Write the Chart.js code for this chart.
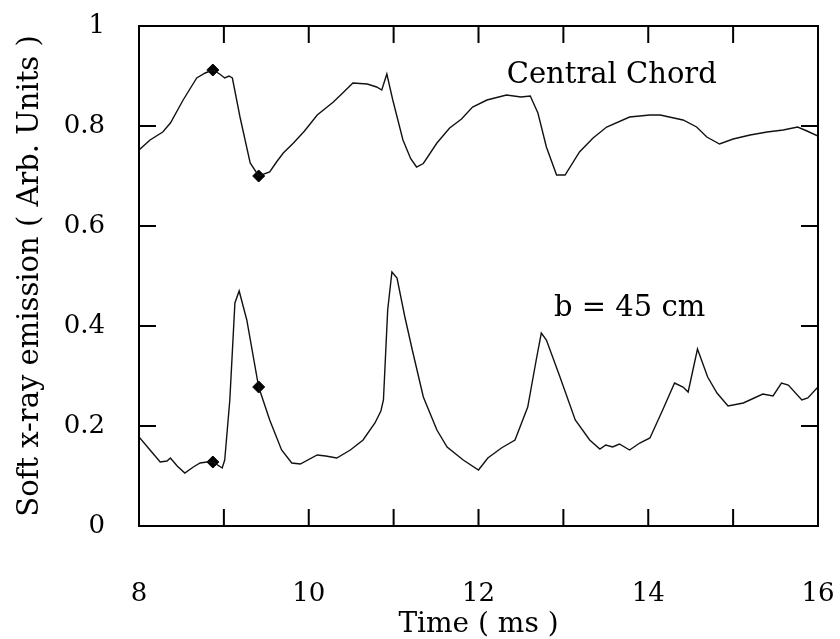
<!DOCTYPE html>
<html>
<head>
<meta charset="utf-8">
<script src="https://cdn.jsdelivr.net/npm/chart.js@4/dist/chart.umd.min.js"></script>
<style>
  html, body { margin: 0; padding: 0; background: #fff; }
  #wrap { width: 840px; height: 639px; }
</style>
</head>
<body>
<div id="wrap"><canvas id="chart" width="840" height="639"></canvas></div>
<script>
// central chord trace (time in ms, emission in arb. units)
const centralTime = [8.00, 8.13, 8.28, 8.37, 8.52, 8.68, 8.78, 8.87, 8.95, 9.01, 9.06, 9.10, 9.19, 9.31, 9.41,
    9.54, 9.62, 9.70, 9.82, 9.95, 10.10, 10.29, 10.40, 10.52, 10.69, 10.80, 10.86, 10.92, 10.99, 11.11, 11.20,
    11.27, 11.35, 11.51, 11.66, 11.80, 11.93, 12.10, 12.33, 12.50, 12.61, 12.70, 12.80, 12.92, 13.02, 13.19,
    13.35, 13.51, 13.78, 14.02, 14.14, 14.41, 14.57, 14.69, 14.84, 15.00, 15.20, 15.40, 15.59, 15.76, 15.87, 16.00];
const centralValues = [0.752, 0.772, 0.788, 0.806, 0.852, 0.896, 0.906, 0.912, 0.904, 0.896, 0.900, 0.896, 0.818, 0.726, 0.700,
    0.708, 0.728, 0.746, 0.766, 0.790, 0.822, 0.848, 0.866, 0.886, 0.884, 0.878, 0.872, 0.904, 0.852, 0.772, 0.735,
    0.718, 0.725, 0.766, 0.796, 0.814, 0.838, 0.852, 0.862, 0.858, 0.860, 0.826, 0.758, 0.702, 0.702, 0.748,
    0.776, 0.798, 0.818, 0.822, 0.822, 0.812, 0.798, 0.778, 0.764, 0.774, 0.782, 0.788, 0.792, 0.798, 0.790, 0.780];

// b = 45 cm trace
const outerTime = [8.00, 8.13, 8.25, 8.33, 8.37, 8.45, 8.54, 8.64, 8.72, 8.80, 8.87, 8.98, 9.01, 9.07, 9.13, 9.18,
    9.27, 9.41, 9.54, 9.68, 9.80, 9.90, 10.10, 10.20, 10.33, 10.49, 10.64, 10.78, 10.85, 10.88, 10.93, 10.98,
    11.04, 11.13, 11.22, 11.35, 11.51, 11.63, 11.82, 12.00, 12.11, 12.27, 12.43, 12.58, 12.68, 12.74, 12.80,
    12.96, 13.14, 13.31, 13.43, 13.50, 13.58, 13.66, 13.78, 13.90, 14.02, 14.17, 14.31, 14.41, 14.47, 14.58,
    14.70, 14.81, 14.94, 15.12, 15.35, 15.47, 15.57, 15.65, 15.81, 15.88, 16.00];
const outerValues = [0.178, 0.152, 0.128, 0.130, 0.136, 0.120, 0.106, 0.118, 0.126, 0.128, 0.128, 0.116, 0.132, 0.252, 0.446, 0.470,
    0.412, 0.278, 0.212, 0.152, 0.126, 0.124, 0.142, 0.140, 0.136, 0.152, 0.172, 0.206, 0.230, 0.252, 0.432, 0.508,
    0.496, 0.420, 0.352, 0.258, 0.192, 0.158, 0.132, 0.112, 0.136, 0.156, 0.172, 0.238, 0.332, 0.386, 0.372,
    0.298, 0.212, 0.172, 0.154, 0.162, 0.158, 0.164, 0.152, 0.166, 0.176, 0.232, 0.286, 0.278, 0.268, 0.354,
    0.298, 0.266, 0.240, 0.246, 0.264, 0.260, 0.286, 0.282, 0.252, 0.256, 0.278];

// diamond markers
const markerTime = [8.87, 9.41, 8.87, 9.41];
const markerValues = [0.912, 0.700, 0.128, 0.278];

const xTickLabels = [8, 10, 12, 14, 16];
const yTickLabels = [0, 0.2, 0.4, 0.6, 0.8, 1];

const FONT = "'DejaVu Serif', serif";

function toPoints(xs, ys) {
    return xs.map((x, i) => ({ x: x, y: ys[i] }));
}

// frame, inward ticks and the two text notes
const framePlugin = {
    id: 'frame',
    afterDatasetsDraw(chart) {
        const ctx = chart.ctx;
        const a = chart.chartArea;
        const xs = chart.scales.x, ys = chart.scales.y;
        ctx.save();
        ctx.strokeStyle = '#000';
        ctx.lineWidth = 2;
        ctx.strokeRect(a.left, a.top, a.right - a.left, a.bottom - a.top);
        const len = 17;
        ctx.beginPath();
        for (let t = xs.min; t <= xs.max; t += 1) {
            const px = xs.getPixelForValue(t);
            ctx.moveTo(px, a.bottom); ctx.lineTo(px, a.bottom - len);
            ctx.moveTo(px, a.top); ctx.lineTo(px, a.top + len);
        }
        yTickLabels.forEach(v => {
            const py = ys.getPixelForValue(v);
            ctx.moveTo(a.left, py); ctx.lineTo(a.left + len, py);
            ctx.moveTo(a.right, py); ctx.lineTo(a.right - len, py);
        });
        ctx.stroke();

        ctx.fillStyle = '#000';
        ctx.font = '29px ' + FONT;
        ctx.textAlign = 'center';
        ctx.textBaseline = 'middle';
        ctx.fillText('Central Chord', xs.getPixelForValue(13.57), ys.getPixelForValue(0.902));
        ctx.fillText('b = 45 cm', xs.getPixelForValue(13.78), ys.getPixelForValue(0.436));
        ctx.restore();
    }
};

document.addEventListener("DOMContentLoaded", () => {
    const ctx = document.getElementById('chart').getContext('2d');
    new Chart(ctx, {
        type: 'scatter',
        data: {
            datasets: [
                {
                    label: 'Central Chord',
                    data: toPoints(centralTime, centralValues),
                    showLine: true,
                    borderColor: '#111',
                    borderWidth: 1.4,
                    pointRadius: 0,
                    tension: 0
                },
                {
                    label: 'b = 45 cm',
                    data: toPoints(outerTime, outerValues),
                    showLine: true,
                    borderColor: '#111',
                    borderWidth: 1.4,
                    pointRadius: 0,
                    tension: 0
                },
                {
                    label: 'markers',
                    data: toPoints(markerTime, markerValues),
                    showLine: false,
                    pointStyle: 'rectRot',
                    pointRadius: 6,
                    backgroundColor: '#000',
                    borderColor: '#000'
                }
            ]
        },
        options: {
            responsive: false,
            animation: false,
            layout: { padding: { top: 26, right: 22, left: 0, bottom: 0 } },
            plugins: {
                legend: { display: false },
                tooltip: { enabled: false }
            },
            scales: {
                x: {
                    type: 'linear',
                    min: 8,
                    max: 16,
                    afterFit: s => { s.height = 113; s.paddingLeft = 0; s.paddingRight = 0; },
                    afterBuildTicks: s => { s.ticks = xTickLabels.map(v => ({ value: v })); },
                    grid: { display: false, drawTicks: false },
                    border: { display: false },
                    ticks: { color: '#000', padding: 53, maxRotation: 0, font: { family: FONT, size: 26 } },
                    title: {
                        display: true,
                        text: 'Time ( ms )',
                        color: '#000',
                        font: { family: FONT, size: 28, lineHeight: 1.05 },
                        padding: { top: 0, bottom: 0 }
                    }
                },
                y: {
                    type: 'linear',
                    min: 0,
                    max: 1,
                    afterFit: s => { s.width = 139; s.paddingTop = 0; s.paddingBottom = 0; },
                    afterBuildTicks: s => { s.ticks = yTickLabels.map(v => ({ value: v })); },
                    grid: { display: false, drawTicks: false },
                    border: { display: false },
                    ticks: {
                        color: '#000',
                        padding: 34,
                        font: { family: FONT, size: 26 },
                        callback: v => String(v)
                    },
                    title: {
                        display: true,
                        text: 'Soft x-ray emission ( Arb. Units )',
                        color: '#000',
                        font: { family: FONT, size: 29 },
                        padding: { top: 13, bottom: 0 }
                    }
                }
            }
        },
        plugins: [framePlugin]
    });
});
</script>
</body>
</html>
